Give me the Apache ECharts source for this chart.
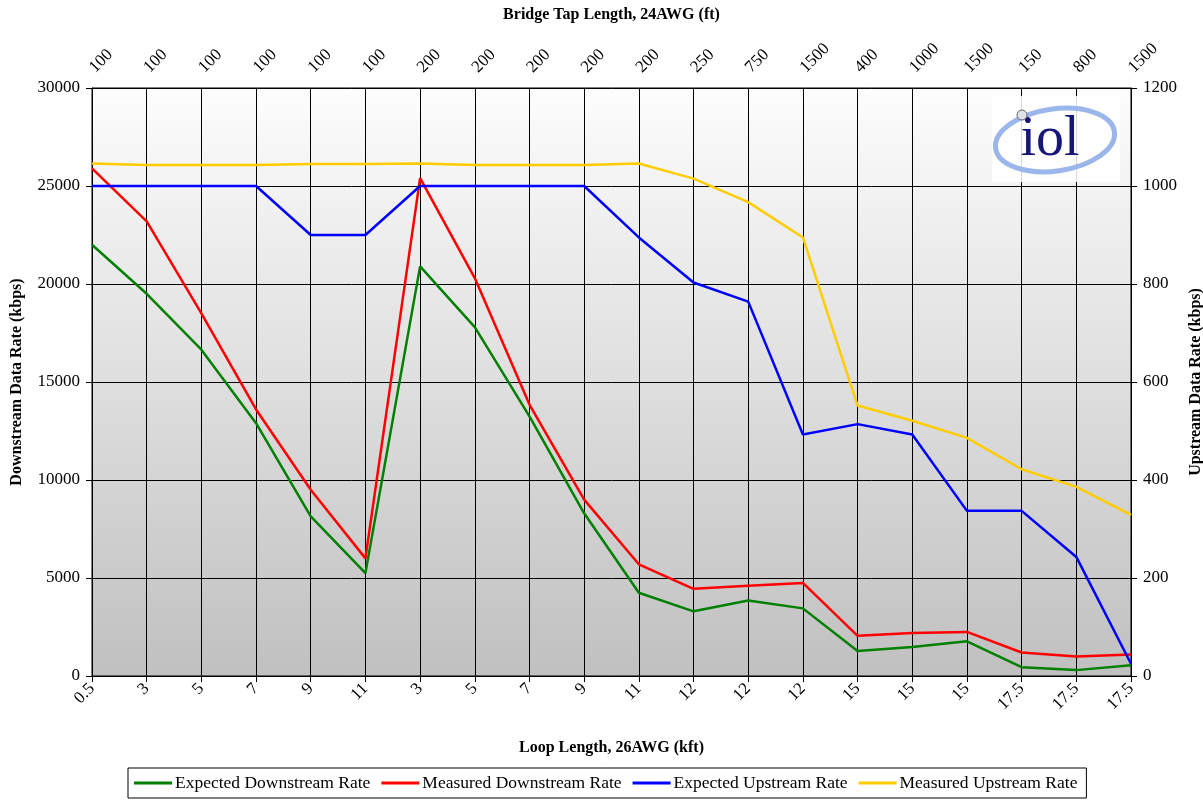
<!DOCTYPE html>
<html>
<head>
<meta charset="utf-8">
<script src="https://cdn.jsdelivr.net/npm/echarts@6/dist/echarts.min.js"></script>
<style>
html,body{margin:0;padding:0;background:#fff;}
#chart{width:1203px;height:804px;}
</style>
</head>
<body>
<div id="chart"></div>
<script>
const loopLengths = ['0.5','3','5','7','9','11','3','5','7','9','11','12','12','12','15','15','15','17.5','17.5','17.5'];
const tapLengths = ['100','100','100','100','100','100','200','200','200','200','200','250','750','1500','400','1000','1500','150','800','1500'];
const expectedDownstream = [22000,19500,16650,12900,8150,5250,20900,17800,13250,8300,4250,3300,3850,3450,1280,1480,1770,450,300,550];
const measuredDownstream = [25900,23200,18500,13600,9500,6000,25400,20300,13850,9000,5700,4450,4600,4750,2050,2200,2250,1200,1000,1100];
const expectedUpstream = [1000,1000,1000,1000,900,900,1000,1000,1000,1000,895,803,764,493,514,493,337,337,243,25];
const measuredUpstream = [1046,1043,1043,1043,1045,1045,1046,1043,1043,1043,1046,1015,967,895,552,521,486,422,386,329];

const FONT = '"Liberation Serif","DejaVu Serif",serif';
const chart = echarts.init(document.getElementById('chart'));
const lbl = {color:'#000', fontFamily:FONT, fontSize:17};
const plain = v => String(v);
chart.setOption({
  animation:false,
  backgroundColor:'#fff',
  textStyle:{fontFamily:FONT},
  grid:{left:92,right:72,top:88,bottom:128,show:true,borderColor:'#000',borderWidth:1,
    outerBoundsMode:'none',containLabel:false,
    backgroundColor:new echarts.graphic.LinearGradient(0,0,0,1,[{offset:0,color:'#fdfdfd'},{offset:1,color:'#c0c0c0'}])},
  graphic:[
    {type:'rect',shape:{x:992,y:96,width:128,height:86},style:{fill:'rgba(255,255,255,0.85)'},z:49},
    {type:'ellipse',shape:{cx:1055,cy:140,rx:60,ry:31},rotation:0.14,originX:1055,originY:140,
      style:{fill:'none',stroke:'#9ab6ea',lineWidth:5},z:50},
    {type:'text',x:1050,y:140,style:{text:'iol',fontFamily:FONT,fontSize:56,fill:'#17177a',align:'center',verticalAlign:'middle'},z:51},
    {type:'circle',shape:{cx:1022,cy:115,r:5},style:{fill:'#e0e0ea',stroke:'#666',lineWidth:1},z:52}
  ],
  legend:{
    left:128,top:768,width:975,height:22,
    borderColor:'#000',borderWidth:1,padding:[6,9,6,6],
    icon:'rect',itemWidth:38,itemHeight:3,itemGap:11,
    textStyle:{color:'#000',fontFamily:FONT,fontSize:17.5,padding:[0,0,0,-2]},
    data:['Expected Downstream Rate','Measured Downstream Rate','Expected Upstream Rate','Measured Upstream Rate']
  },
  xAxis:[
    {type:'category',data:loopLengths,boundaryGap:false,position:'bottom',
     name:'Loop Length, 26AWG (kft)',nameLocation:'middle',nameGap:64,
     nameTextStyle:{color:'#000',fontFamily:FONT,fontSize:16,fontWeight:'bold'},
     axisLine:{lineStyle:{color:'#000',width:1}},
     axisTick:{show:true,length:6,lineStyle:{color:'#000'}},
     axisLabel:Object.assign({rotate:45,margin:10,interval:0},lbl),
     splitLine:{show:true,lineStyle:{color:'#000',width:1}}},
    {type:'category',data:tapLengths,boundaryGap:false,position:'top',
     name:'Bridge Tap Length, 24AWG (ft)',nameLocation:'middle',nameGap:65,
     nameTextStyle:{color:'#000',fontFamily:FONT,fontSize:16,fontWeight:'bold'},
     axisLine:{lineStyle:{color:'#000',width:1}},
     axisTick:{show:true,length:6,lineStyle:{color:'#000'}},
     axisLabel:Object.assign({rotate:45,margin:18,interval:0},lbl),
     splitLine:{show:false}}
  ],
  yAxis:[
    {type:'value',min:0,max:30000,interval:5000,position:'left',
     name:'Downstream Data Rate (kbps)',nameLocation:'middle',nameGap:67,nameRotate:90,
     nameTextStyle:{color:'#000',fontFamily:FONT,fontSize:16,fontWeight:'bold'},
     axisLine:{show:true,lineStyle:{color:'#000'}},
     axisTick:{show:true,length:6,lineStyle:{color:'#000'}},
     axisLabel:Object.assign({margin:12,formatter:plain},lbl),
     splitLine:{show:true,lineStyle:{color:'#000',width:1}}},
    {type:'value',min:0,max:1200,interval:200,position:'right',
     name:'Upstream Data Rate (kbps)',nameLocation:'middle',nameGap:56,nameRotate:90,
     nameTextStyle:{color:'#000',fontFamily:FONT,fontSize:16,fontWeight:'bold'},
     axisLine:{show:true,lineStyle:{color:'#000'}},
     axisTick:{show:true,length:6,lineStyle:{color:'#000'}},
     axisLabel:Object.assign({margin:12,formatter:plain},lbl),
     splitLine:{show:false}}
  ],
  series:[
    {name:'Expected Downstream Rate',type:'line',data:expectedDownstream,yAxisIndex:0,showSymbol:false,symbol:'none',
     lineStyle:{color:'#008000',width:2.5},itemStyle:{color:'#008000'}},
    {name:'Measured Downstream Rate',type:'line',data:measuredDownstream,yAxisIndex:0,showSymbol:false,symbol:'none',
     lineStyle:{color:'#ff0000',width:2.5},itemStyle:{color:'#ff0000'}},
    {name:'Expected Upstream Rate',type:'line',data:expectedUpstream,yAxisIndex:1,showSymbol:false,symbol:'none',
     lineStyle:{color:'#0000ff',width:2.5},itemStyle:{color:'#0000ff'}},
    {name:'Measured Upstream Rate',type:'line',data:measuredUpstream,yAxisIndex:1,showSymbol:false,symbol:'none',
     lineStyle:{color:'#ffcc00',width:2.5},itemStyle:{color:'#ffcc00'}}
  ]
});
</script>
</body>
</html>
